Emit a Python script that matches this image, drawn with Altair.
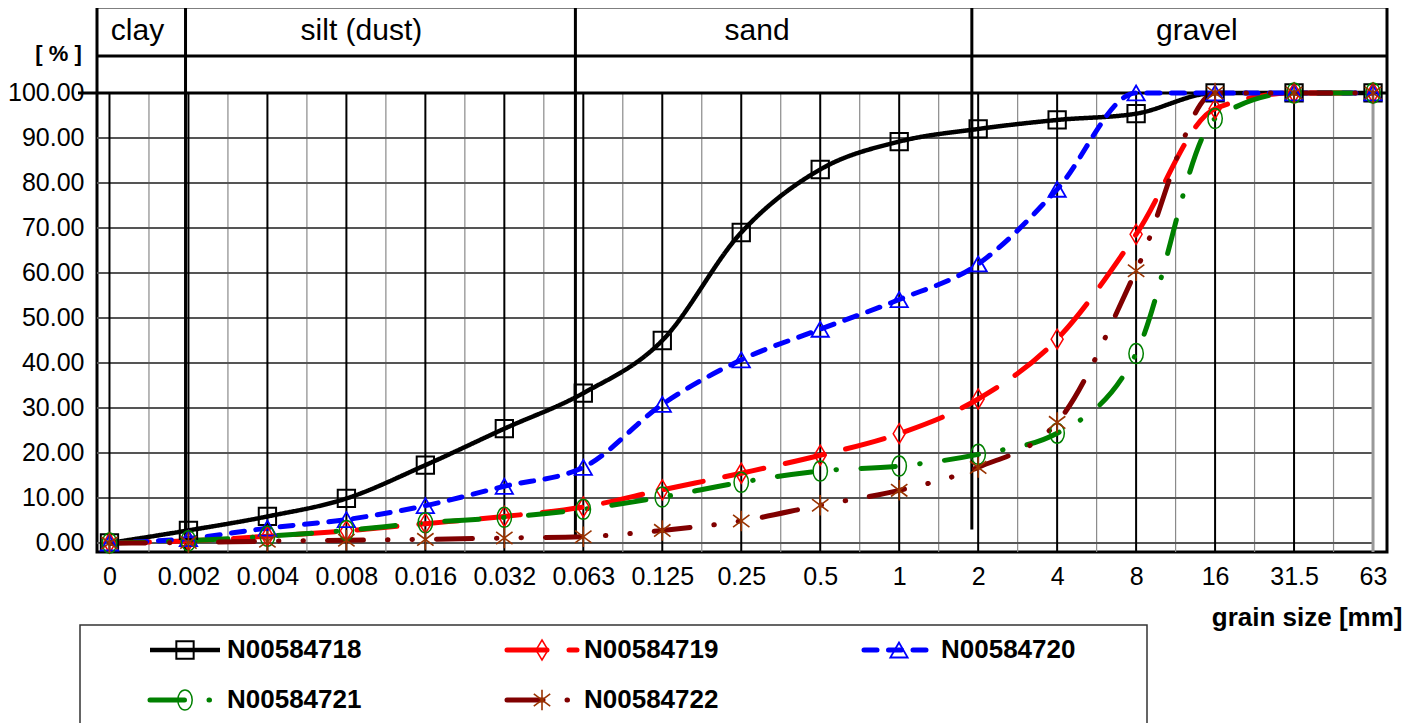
import json
import altair as alt
import pandas as pd

# ---------------- data ----------------
sizes = ["0", "0.002", "0.004", "0.008", "0.016", "0.032", "0.063", "0.125",
         "0.25", "0.5", "1", "2", "4", "8", "16", "31.5", "63"]
series_names = ["N00584718", "N00584719", "N00584720", "N00584721", "N00584722"]
s718 = [0, 2.8, 5.9, 9.9, 17.3, 25.4, 33.3, 45, 69, 83, 89.2, 92, 94, 95.4, 100, 100, 100]
s719 = [0, 0.5, 1.5, 2.7, 4.3, 5.9, 8, 11.8, 15.5, 19.5, 24.3, 32, 45.3, 68.6, 96.5, 100, 100]
s720 = [0, 1, 3.3, 5.2, 8.3, 12.6, 16.8, 30.8, 40.7, 47.5, 54.1, 62, 78.6, 100, 100, 100, 100]
s721 = [0, 0.5, 1.5, 2.8, 4.5, 5.7, 7.5, 10.2, 13.5, 16, 17.1, 19.7, 24.4, 42.1, 94.3, 100, 100]
s722 = [0, 0.1, 0.4, 0.6, 0.8, 1.1, 1.4, 2.8, 4.9, 8.4, 11.7, 16.8, 26.8, 60.5, 100, 100, 100]
series_values = [s718, s719, s720, s721, s722]
classes = ["clay", "silt (dust)", "sand", "gravel"]

# ---------------- styles / layout ----------------
FONT = "Liberation Sans"
colors = ["#000000", "#FF0000", "#0000FF", "#008000", "#800000"]
marker_colors = ["#000000", "#FF0000", "#0000FF", "#008000", "#993300"]
dashes = [[1, 0], [40, 22], [13, 11.5], [34.5, 24.5, 0.5, 24.5],
          [36, 24, 0.5, 24, 0.5, 24]]
line_widths = [4.5, 5, 5, 5, 5]
shapes = ["square", "M0,-1L0.6,0L0,1L-0.6,0Z", "triangle-up",
          "M0,-1A0.72,1,0,1,1,0,1A0.72,1,0,1,1,0,-1Z",
          "M0,-1L0,1M-0.8,-0.6L0.8,0.6M-0.8,0.6L0.8,-0.6"]
marker_sizes = [300, 400, 300, 400, 420]
marker_sw = [2, 1.5, 1.8, 1.5, 1.6]

W, H = 1290, 545
XD = [-0.158, 16.177]
YD = [-2, 119.1]
HEADER_LINE = 108.2
HEADER_TEXT_Y = 113.8
class_label_x = [0.355, 3.19, 8.2, 13.77]
divider_x = [0.963, 5.90, 10.92]
divider_bottom = [-2, 1, 3]

xs = alt.Scale(domain=XD, nice=False, zero=False)
ys = alt.Scale(domain=YD, nice=False, zero=False)

label_expr = json.dumps(sizes) + "[datum.value]"
X_AX = alt.Axis(values=list(range(len(sizes))), labelExpr=label_expr,
                labelFont=FONT, labelFontSize=25, labelColor="black",
                labelPadding=12, ticks=False, tickSize=0, domain=False,
                grid=False, labelFlush=False, labelOverlap=False,
                title="grain size [mm]", titleFont=FONT, titleFontSize=26,
                titleFontWeight="bold", titleColor="black", titleX=1305,
                titleY=65, titleAlign="right", titleBaseline="middle")
Y_AX = alt.Axis(values=list(range(0, 101, 10)), format=".2f",
                labelFont=FONT, labelFontSize=25, labelColor="black",
                labelPadding=13, ticks=False, tickSize=0, domain=False,
                grid=False, title="[ % ]", titleFont=FONT, titleFontSize=22,
                titleFontWeight="bold", titleColor="black", titleAngle=0,
                titleX=-39, titleY=46, titleAlign="center",
                titleBaseline="middle")


def X(f):
    return alt.X(f, scale=xs, axis=X_AX, title="grain size [mm]")


def Y(f):
    return alt.Y(f, scale=ys, axis=Y_AX, title="[ % ]")


rows = []
for name, vals in zip(series_names, series_values):
    for i, v in enumerate(vals):
        rows.append({"series": name, "i": i, "v": v})
df = pd.DataFrame(rows)

one = pd.DataFrame({"a": [0]})
minor_df = pd.DataFrame({"x": [i + 0.5 for i in range(len(sizes) - 1)],
                         "y0": -2, "y1": 100})
major_df = pd.DataFrame({"x": list(range(len(sizes) - 1)), "y0": -2, "y1": 100})
last_df = pd.DataFrame({"x": [len(sizes) - 1], "y0": -2, "y1": 100})
h_df = pd.DataFrame({"y": list(range(0, 100, 10)), "x0": XD[0],
                     "x1": len(sizes) - 1})
div_df = pd.DataFrame({"x": divider_x, "y0": divider_bottom, "y1": YD[1]})
cls_df = pd.DataFrame({"c": classes, "x": class_label_x, "y": HEADER_TEXT_Y})

layers = []
layers.append(alt.Chart(minor_df).mark_rule(color="#8a8a8a", strokeWidth=1.2)
              .encode(x=X("x:Q"), y=Y("y0:Q"), y2="y1:Q"))
layers.append(alt.Chart(h_df).mark_rule(color="#555555", strokeWidth=2)
              .encode(x=X("x0:Q"), x2="x1:Q", y=Y("y:Q")))
layers.append(alt.Chart(major_df).mark_rule(color="#000000", strokeWidth=2)
              .encode(x=X("x:Q"), y=Y("y0:Q"), y2="y1:Q"))
layers.append(alt.Chart(last_df).mark_rule(color="#999999", strokeWidth=3)
              .encode(x=X("x:Q"), y=Y("y0:Q"), y2="y1:Q"))
layers.append(alt.Chart(one).mark_rule(color="black", strokeWidth=3)
              .encode(x=alt.value(-19), x2=alt.value(W), y=Y("datum_y:Q"))
              .transform_calculate(datum_y="100"))
layers.append(alt.Chart(one).mark_rule(color="black", strokeWidth=3)
              .encode(x=alt.value(0), x2=alt.value(W), y=Y("hy:Q"))
              .transform_calculate(hy=str(HEADER_LINE)))
layers.append(alt.Chart(div_df).mark_rule(color="black", strokeWidth=3)
              .encode(x=X("x:Q"), y=Y("y0:Q"), y2="y1:Q"))
layers.append(alt.Chart(cls_df).mark_text(font=FONT, fontSize=30, color="black",
                                          align="center", baseline="middle")
              .encode(x=X("x:Q"), y=Y("y:Q"), text="c:N"))

for k, name in enumerate(series_names):
    d = df[df.series == name]
    layers.append(alt.Chart(d).mark_line(
        color=colors[k], strokeWidth=line_widths[k], strokeDash=dashes[k],
        strokeCap="butt" if k == 0 else "round", interpolate="monotone")
        .encode(x=X("i:Q"), y=Y("v:Q"), order="i:Q"))
for k, name in enumerate(series_names):
    d = df[df.series == name]
    layers.append(alt.Chart(d).mark_point(
        shape=shapes[k], size=marker_sizes[k], filled=False,
        stroke=marker_colors[k], strokeWidth=marker_sw[k], opacity=1)
        .encode(x=X("i:Q"), y=Y("v:Q")))

main = alt.layer(*layers).properties(
    width=W, height=H,
    view=alt.ViewBackground(stroke="black", strokeWidth=3))

# ---------------- legend panel ----------------
COL_STEP, ROW_STEP = 357, 50
leg_rows = []
for k, name in enumerate(series_names):
    c, r = k % 3, k // 3
    x0 = 53 + c * COL_STEP
    leg_rows.append({"series": name, "x0": x0, "x1": x0 + 70, "mx": x0 + 35,
                     "tx": x0 + 77, "y": 25 + r * ROW_STEP})
leg_df = pd.DataFrame(leg_rows)

LX = lambda f: alt.X(f, scale=None, axis=None)
LY = lambda f: alt.Y(f, scale=None, axis=None)

leg_layers = [alt.Chart(one).mark_rect(fill=None, stroke="#333333",
                                       strokeWidth=1.5)
              .encode(x=alt.value(-17), x2=alt.value(1050),
                      y=alt.value(0), y2=alt.value(110))]
for k, name in enumerate(series_names):
    d = leg_df[leg_df.series == name]
    leg_layers.append(alt.Chart(d).mark_rule(
        color=colors[k], strokeWidth=line_widths[k], strokeDash=dashes[k],
        strokeCap="butt" if k == 0 else "round")
        .encode(x=LX("x0:Q"), x2="x1:Q", y=LY("y:Q")))
    leg_layers.append(alt.Chart(d).mark_point(
        shape=shapes[k], size=marker_sizes[k], filled=False,
        stroke=marker_colors[k], strokeWidth=marker_sw[k], opacity=1)
        .encode(x=LX("mx:Q"), y=LY("y:Q")))
    leg_layers.append(alt.Chart(d).mark_text(
        font=FONT, fontSize=26, fontWeight="bold", color="black",
        align="left", baseline="middle")
        .encode(x=LX("tx:Q"), y=LY("y:Q"), text="series:N"))

legend = alt.layer(*leg_layers).properties(
    width=1049, height=110, view=alt.ViewBackground(stroke=None))

chart = alt.vconcat(main, legend, spacing=73, bounds="flush").properties(
    padding={"left": -2, "top": -4, "right": 0, "bottom": 0}
).configure_view(stroke=None)

chart.save("out.html", embed_options={"renderer": "svg", "actions": False})
